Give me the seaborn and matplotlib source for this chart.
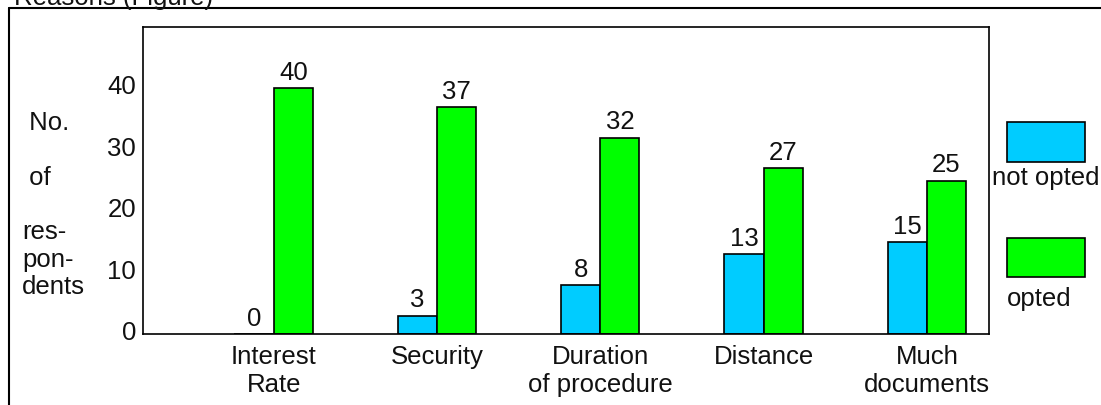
import matplotlib
matplotlib.use("Agg")
import matplotlib.pyplot as plt
import matplotlib.transforms as mtransforms
from matplotlib.patches import Rectangle
from matplotlib.lines import Line2D
import pandas as pd
import seaborn as sns

# Survey counts per reason
categories = ["Interest\nRate", "Security", "Duration\nof procedure", "Distance", "Much\ndocuments"]
not_opted = [0, 3, 8, 13, 15]
opted = [40, 37, 32, 27, 25]
groups = ["not opted", "opted"]
colors = {"not opted": "#00CCFF", "opted": "#00FF00"}
y_ticks = [0, 10, 20, 30, 40]

df = pd.DataFrame({
    "reason": categories * 2,
    "count": not_opted + opted,
    "status": [groups[0]] * len(categories) + [groups[1]] * len(categories),
})

sns.set_theme(style="white")
plt.rcParams["font.family"] = ["Liberation Sans", "DejaVu Sans"]
FS = 18.5

W, H = 1101, 406
fig = plt.figure(figsize=(W / 100, H / 100), dpi=100)
ax = fig.add_axes([143 / W, 1 - 335 / H, 846 / W, 307 / H])

sns.barplot(data=df, x="reason", y="count", hue="status", hue_order=groups,
            order=categories, palette=colors, width=0.48, dodge=True,
            edgecolor="black", linewidth=1.2, saturation=1, legend=False, ax=ax)

for cont in ax.containers:
    ax.bar_label(cont, fmt="%d", padding=3, fontsize=FS, color="#111111")

ax.set_ylim(0, 50)
ax.set_xlim(-0.8, 4.38)
ax.set_yticks(y_ticks)
ax.set_yticklabels([str(v) for v in y_ticks])
ax.tick_params(axis="both", length=0, labelsize=FS, colors="#111111")
ax.tick_params(axis="y", pad=5)
ax.tick_params(axis="x", pad=7)
offset = mtransforms.ScaledTranslation(0, 4.5 / 100, fig.dpi_scale_trans)
for lbl in ax.get_yticklabels():
    lbl.set_transform(lbl.get_transform() + offset)
ax.set_xlabel("")
ax.set_ylabel("")
for s in ax.spines.values():
    s.set_visible(True)
    s.set_color("black")
    s.set_linewidth(1.2)

# Vertical axis caption
fig.text(22 / W, 1 - 205 / H, " No.\n\n of\n\nres-\npon-\ndents", fontsize=FS,
         ha="left", va="center", multialignment="left", linespacing=1.18,
         color="#111111")

# Legend drawn as boxes with captions underneath
fig.patches.append(Rectangle((1007 / W, 1 - 163 / H), 78 / W, 40 / H,
                             transform=fig.transFigure, facecolor=colors["not opted"],
                             edgecolor="black", linewidth=1.2))
fig.text(992 / W, 1 - 178 / H, "not opted", fontsize=FS, ha="left", va="center",
         color="#111111")
fig.patches.append(Rectangle((1007 / W, 1 - 278 / H), 78 / W, 39 / H,
                             transform=fig.transFigure, facecolor=colors["opted"],
                             edgecolor="black", linewidth=1.2))
fig.text(1007 / W, 1 - 299 / H, "opted", fontsize=FS, ha="left", va="center",
         color="#111111")

# Outer frame and heading running off the top edge
fig.lines.append(Line2D([9 / W, 9 / W], [0, 1 - 9 / H], transform=fig.transFigure,
                        color="black", linewidth=1.5))
fig.lines.append(Line2D([9 / W, 1], [1 - 9 / H, 1 - 9 / H], transform=fig.transFigure,
                        color="black", linewidth=1.5))
fig.text(14 / W, 1 - 5 / H, "Reasons (Figure)", fontsize=FS, ha="left",
         va="baseline", color="#111111")

fig.savefig("out.png", dpi=100)
